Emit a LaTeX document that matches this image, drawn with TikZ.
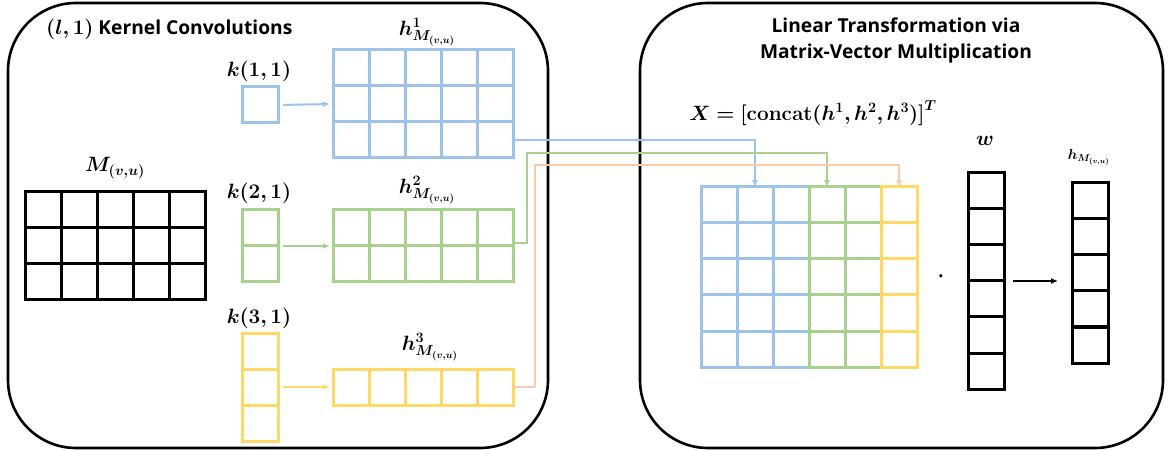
\documentclass[tikz,border=0pt]{standalone}
\usepackage{fontspec}
\usepackage{amsmath,bm}
\usetikzlibrary{arrows.meta,calc,positioning}
\newfontfamily\headfont{Open Sans}
\definecolor{cblue}{HTML}{9DC3E6}
\definecolor{cgreen}{HTML}{A9D18E}
\definecolor{cyellow}{HTML}{FFD966}
\definecolor{cpeach}{HTML}{F8CBAD}

\tikzset{
  cell/.style={draw, line width=3pt, minimum size=36pt, inner sep=0pt, outer sep=0pt},
  panel/.style={draw, line width=2.6pt, rounded corners=68pt, inner sep=0pt},
  lbl/.style={font=\fontsize{20}{24}\selectfont, inner sep=0pt},
  head/.style={font=\headfont\bfseries\fontsize{19.2}{26}\selectfont, inner sep=0pt},
  link/.style={line width=2pt, ->},
}

% grid of cells: name, left x, top y, columns, rows, colour
\newcommand{\cellgrid}[6]{%
  \foreach \i in {1,...,#4}{
    \foreach \j in {1,...,#5}{
      \node[cell, draw=#6] (#1-\i-\j) at ({#2+(\i-.5)*36}, {#3-(\j-.5)*36}) {};
    }
  }
}

\begin{document}
\begin{tikzpicture}[x=1pt, y=1pt, >={Latex[length=7pt,width=6pt]}]
\useasboundingbox (0,0) rectangle (1172,450);

\node[panel, minimum width=540pt, minimum height=445pt] (left) at (278,224.5) {};
\node[panel, minimum width=523pt, minimum height=445pt] (right) at (901.5,224.5) {};

\node[head, anchor=west] (ltitle) at (46,421) {$\bm{(l,1)}$ Kernel Convolutions};
\node[head, align=center] (rtitle) at (896,410) {Linear Transformation via\\Matrix-Vector Multiplication};

% input and kernels
\cellgrid{M}{25}{258}{5}{3}{black}
\cellgrid{k1}{242}{363}{1}{1}{cblue}
\cellgrid{k2}{242}{240}{1}{2}{cgreen}
\cellgrid{k3}{242}{117}{1}{3}{cyellow}

% feature maps
\cellgrid{h1}{333}{400}{5}{3}{cblue}
\cellgrid{h2}{333}{240}{5}{2}{cgreen}
\cellgrid{h3}{333}{81}{5}{1}{cyellow}

\node[lbl] (Mlab) at (115,282) {$\bm{M_{(v,u)}}$};
\node[lbl] (k1lab) at (259,379) {$\bm{k(1,1)}$};
\node[lbl] (k2lab) at (259,257) {$\bm{k(2,1)}$};
\node[lbl] (k3lab) at (259,132) {$\bm{k(3,1)}$};
\node[lbl] (h1lab) at (427,418) {$\bm{h^1_{M_{(v,u)}}}$};
\node[lbl] (h2lab) at (427,260) {$\bm{h^2_{M_{(v,u)}}}$};
\node[lbl] (h3lab) at (430,103) {$\bm{h^3_{M_{(v,u)}}}$};

\draw[link, cblue, shorten <=5pt, shorten >=3pt] (k1-1-1.east) -- (h1-1-2.west);
\draw[link, cgreen, shorten <=5pt, shorten >=3pt] (k2-1-1.south east) -- (h2-1-1.south west);
\draw[link, cyellow, shorten <=5pt, shorten >=3pt] (k3-1-2.east) -- (h3-1-1.west);

% concatenated matrix, weights and output
\cellgrid{xb}{701}{263}{3}{5}{cblue}
\cellgrid{xg}{809}{263}{2}{5}{cgreen}
\cellgrid{xy}{881}{263}{1}{5}{cyellow}
\cellgrid{w}{968}{277}{1}{6}{black}
\cellgrid{out}{1072}{267}{1}{5}{black}

\node[font=\fontsize{21.5}{24}\selectfont, inner sep=0pt] (Xlab) at (813,337) {$\bm{X=[\mathbf{concat}(h^1,h^2,h^3)]^T}$};
\node[lbl] (wlab) at (985,309) {$\bm{w}$};
\node[font=\fontsize{14}{16}\selectfont, inner sep=0pt] (outlab) at (1089,293) {$\bm{h_{M_{(v,u)}}}$};
\node[lbl] (dot) at (941,173) {$\bm{\cdot}$};

\draw[link, black, shorten <=9pt, shorten >=14pt] (w-1-3.south east) -- (w-1-3.south east -| out-1-1.west);

\draw[link, cblue] (h1-5-3.east) -| (xb-2-1.north);
\draw[link, cgreen] ($(h2-5-1.south east)+(0,3)$) -- ++(14,0) |- ([yshift=34pt]xg-1-1.north) -- (xg-1-1.north);
\draw[link, cpeach] (h3-5-1.east) -- ++(22,0) |- ([yshift=22pt]xy-1-1.north) -- (xy-1-1.north);

\end{tikzpicture}
\end{document}
